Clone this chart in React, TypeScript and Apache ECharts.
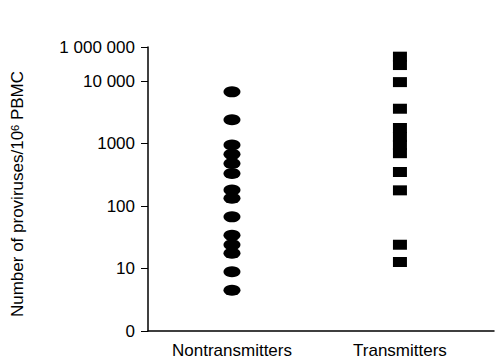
import React, { useEffect, useRef } from "react";
import * as echarts from "echarts";

// Group names and their positions on the x scale
const groupNames = ["Nontransmitters", "Transmitters"];
const groupX = [0.5, 1.5];

// Proviruses per 10^6 PBMC
const nontransmitters = [6700, 2400, 950, 670, 480, 330, 180, 133, 67, 34, 24, 17.5, 8.9, 4.5];
const transmitters = [24500, 18000, 9600, 3600, 1770, 1270, 950, 700, 350, 178, 24, 12.7];

// Y tick labels (log10 decades 0..4, then the top label)
const yTickLabels = ["0", "10", "100", "1000", "10 000", "1 000 000"];
const yTop = 4.544;

export default function App() {
  const ref = useRef<HTMLDivElement>(null);
  useEffect(() => {
    if (!ref.current) return;
    const chart = echarts.init(ref.current, null, { renderer: "svg" });
    const font = "Liberation Sans, Arial, Helvetica, sans-serif";
    chart.setOption({
      animation: false,
      backgroundColor: "#fff",
      grid: { left: 148, right: 1, top: 47, bottom: 30, containLabel: false },
      xAxis: {
        type: "value",
        min: 0,
        max: 2.06,
        interval: 0.5,
        splitLine: { show: false },
        axisTick: { show: false },
        axisLine: { lineStyle: { color: "#000", width: 1.5 } },
        axisLabel: {
          color: "#000",
          fontFamily: font,
          fontSize: 17,
          margin: 11,
          showMaxLabel: false,
          formatter: (v: number) => {
            const i = groupX.findIndex((g) => Math.abs(g - v) < 1e-6);
            return i >= 0 ? groupNames[i] : "";
          },
        },
      },
      yAxis: {
        type: "value",
        min: 0,
        max: yTop,
        interval: 1,
        splitLine: { show: false },
        axisLine: { lineStyle: { color: "#000", width: 1.5 } },
        axisTick: { show: true, length: 7, lineStyle: { color: "#000", width: 1 } },
        axisLabel: {
          color: "#000",
          fontFamily: font,
          fontSize: 17,
          margin: 13,
          showMaxLabel: true,
          formatter: (v: number) => (v > 4.2 ? yTickLabels[5] : yTickLabels[Math.round(v)] ?? ""),
        },
        name: "{a|Number of proviruses/10}{s|6}{a| PBMC}",
        nameLocation: "middle",
        nameRotate: 90,
        nameGap: 122,
        nameTextStyle: {
          padding: [0, 10, 0, 0],
          rich: {
            a: { fontFamily: font, fontSize: 17, color: "#000" },
            s: { fontFamily: font, fontSize: 11, color: "#000", verticalAlign: "top", lineHeight: 11 },
          },
        },
      },
      series: [
        {
          type: "scatter",
          symbol: "circle",
          symbolSize: [17, 11],
          itemStyle: { color: "#000", opacity: 1 },
          data: nontransmitters.map((v) => [groupX[0], Math.log10(v)]),
        },
        {
          type: "scatter",
          symbol: "rect",
          symbolSize: [14, 10],
          itemStyle: { color: "#000", opacity: 1 },
          data: transmitters.map((v) => [groupX[1], Math.log10(v)]),
        },
      ],
    });
    return () => chart.dispose();
  }, []);
  return <div ref={ref} style={{ position: "fixed", left: 0, top: 0, width: 495, height: 361 }} />;
}
